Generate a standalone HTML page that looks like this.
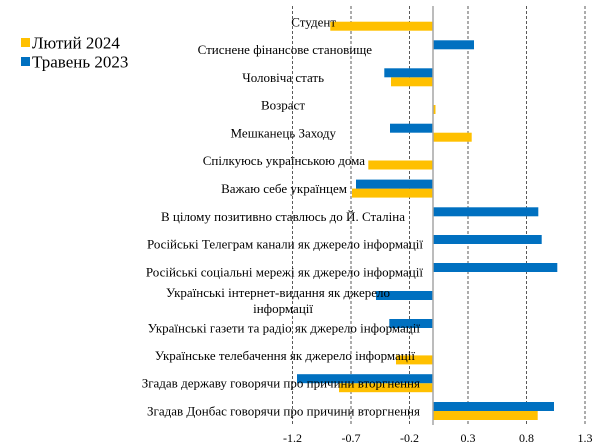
<!DOCTYPE html>
<html><head><meta charset="utf-8"><style>
html,body{margin:0;padding:0;background:#fff;}
svg{display:block;font-family:"Liberation Serif","Noto Serif CJK SC",serif;}
</style></head><body>
<svg width="600" height="445" viewBox="0 0 600 445" xmlns="http://www.w3.org/2000/svg">
<g stroke="#595959" stroke-width="1" stroke-dasharray="3,2">
<line x1="292.5" y1="6" x2="292.5" y2="425"/>
<line x1="351" y1="6" x2="351" y2="425"/>
<line x1="409.5" y1="6" x2="409.5" y2="425"/>
<line x1="468" y1="6" x2="468" y2="425"/>
<line x1="526.5" y1="6" x2="526.5" y2="425"/>
<line x1="585" y1="6" x2="585" y2="425"/>
</g>
<g fill="#FFC000">
<rect x="330.3" y="21.7" width="102.7" height="9"/>
<rect x="391" y="77.3" width="42" height="9"/>
<rect x="433" y="105" width="2.5" height="9"/>
<rect x="433" y="132.7" width="38.7" height="9"/>
<rect x="368.3" y="160.5" width="64.7" height="9"/>
<rect x="352" y="188.6" width="81" height="9"/>
<rect x="396" y="355.4" width="37" height="9"/>
<rect x="339" y="383.2" width="94" height="9"/>
<rect x="433" y="411" width="104.7" height="9"/>
</g>
<g fill="#0070C0">
<rect x="433" y="40.3" width="41" height="9"/>
<rect x="384.3" y="68.3" width="48.7" height="9"/>
<rect x="390" y="123.7" width="43" height="9"/>
<rect x="356" y="179.6" width="77" height="9"/>
<rect x="433" y="207.3" width="105.3" height="9"/>
<rect x="433" y="235" width="108.7" height="9"/>
<rect x="433" y="263" width="124.3" height="9"/>
<rect x="376" y="291" width="57" height="9"/>
<rect x="389.3" y="319" width="43.7" height="9"/>
<rect x="297" y="374.2" width="136" height="9"/>
<rect x="433" y="402" width="121" height="9"/>
</g>
<line x1="433" y1="6" x2="433" y2="425" stroke="#A6A6A6" stroke-width="1.5"/>
<g font-size="13" fill="#000" text-anchor="end">
<text x="336" y="26.5">Студент</text>
<text x="372" y="54">Стиснене фінансове становище</text>
<text x="324" y="82">Чоловіча стать</text>
<text x="305" y="109.5">Возраст</text>
<text x="336" y="137.5">Мешканець Заходу</text>
<text x="365" y="165">Спілкуюсь українською дома</text>
<text x="347" y="193">Важаю себе українцем</text>
<text x="405" y="221">В цілому позитивно ставлюсь до Й. Сталіна</text>
<text x="423" y="248.5">Російські Телеграм канали як джерело інформації</text>
<text x="423" y="276.5">Російські соціальні мережі як джерело інформації</text>
<text x="390" y="297">Українські інтернет-видання як джерело</text>
<text x="313" y="313">інформації</text>
<text x="420" y="332.5">Українські газети та радіо як джерело інформації</text>
<text x="415" y="360">Українське телебачення як джерело інформації</text>
<text x="420" y="387.5">Згадав державу говорячи про причини вторгнення</text>
<text x="420" y="415.5">Згадав Донбас говорячи про причини вторгнення</text>
</g>
<g font-size="12" fill="#000" text-anchor="middle">
<text x="292.5" y="442">-1.2</text>
<text x="351" y="442">-0.7</text>
<text x="409.5" y="442">-0.2</text>
<text x="468" y="442">0.3</text>
<text x="526.5" y="442">0.8</text>
<text x="585" y="442">1.3</text>
</g>
<rect x="21" y="38" width="9" height="9" fill="#FFC000"/>
<rect x="21" y="57" width="9" height="9" fill="#0070C0"/>
<g font-size="17" fill="#000">
<text x="32" y="48.5">Лютий 2024</text>
<text x="32" y="67.5">Травень 2023</text>
</g>
</svg>
</body></html>
